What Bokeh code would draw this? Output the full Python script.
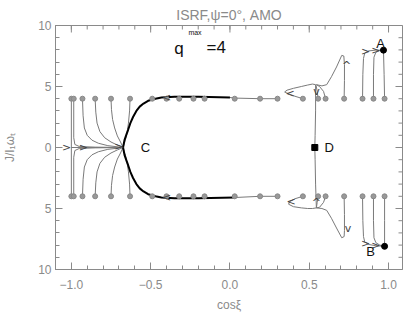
from bokeh.plotting import figure
from bokeh.models import Range1d, FixedTicker, Label
from bokeh.embed import file_html
from bokeh.resources import INLINE
from bokeh.core.properties import value

# ---------------- tick data ----------------
x_major = [-1.0, -0.5, 0.0, 0.5, 1.0]
x_tick_labels = ["\u22121.0", "\u22120.5", "0.0", "0.5", "1.0"]
x_minor = [-1.1, -1.0, -0.9, -0.8, -0.7, -0.6, -0.5, -0.4, -0.3, -0.2, -0.1,
           0.0, 0.1, 0.2, 0.3, 0.4, 0.5, 0.6, 0.7, 0.8, 0.9, 1.0]
y_major = [-10, -5, 0, 5, 10]
y_tick_labels = ["10", "5", "0", "5", "10"]
y_minor = [-10, -9, -8, -7, -6, -5, -4, -3, -2, -1, 0, 1, 2, 3, 4, 5, 6, 7, 8, 9, 10]

# ---------------- starting points ----------------
start_top_x = [-1.0, -0.985, -0.93, -0.85, -0.75, -0.63, -0.49, -0.40, -0.32, -0.23,
               -0.16, 0.03, 0.19, 0.30, 0.46, 0.556, 0.603, 0.72, 0.836, 0.905, 0.975]
start_top_y = [4.0] * 21
start_bot_x = [-1.0, -0.985, -0.93, -0.85, -0.75, -0.63, -0.49, -0.40, -0.32, -0.23,
               -0.16, 0.03, 0.19, 0.30, 0.46, 0.556, 0.603, 0.72, 0.836, 0.905, 0.975]
start_bot_y = [-4.0] * 21

# ---------------- trajectories, upper half ----------------
l1t_x = [-1.0, -1.0, -0.674]
l1t_y = [4.0, 0.0, 0.0]
l2t_x = [-0.985, -0.985, -0.978, -0.95, -0.85, -0.674]
l2t_y = [4.0, 0.8, 0.25, 0.08, 0.03, 0.0]
l3t_x = [-0.93, -0.926, -0.918, -0.9, -0.87, -0.83, -0.77, -0.674]
l3t_y = [4.0, 2.6, 1.6, 1.0, 0.6, 0.35, 0.15, 0.0]
l4t_x = [-0.85, -0.846, -0.838, -0.82, -0.79, -0.75, -0.71, -0.674]
l4t_y = [4.0, 2.9, 2.0, 1.3, 0.8, 0.45, 0.2, 0.0]
l5t_x = [-0.75, -0.747, -0.74, -0.727, -0.71, -0.69, -0.674]
l5t_y = [4.0, 3.1, 2.3, 1.6, 0.95, 0.45, 0.0]
l6t_x = [-0.63, -0.633, -0.64, -0.65, -0.662, -0.674]
l6t_y = [4.0, 3.0, 2.0, 1.1, 0.5, 0.0]
rowt_x = [0.30, 0.19, 0.03, 0.0]
rowt_y = [4.0, 4.0, 4.05, 4.1]
loopt_x = [0.46, 0.41, 0.37, 0.345, 0.36, 0.40, 0.45, 0.49, 0.52, 0.54, 0.54, 0.537, 0.535]
loopt_y = [4.0, 4.2, 4.4, 4.55, 4.7, 4.85, 5.0, 5.12, 5.2, 5.15, 3.0, 1.0, 0.0]
fat_x = [0.556, 0.55, 0.543]
fat_y = [4.0, 4.6, 5.1]
fbt_x = [0.603, 0.59, 0.565, 0.545]
fbt_y = [4.0, 4.6, 5.0, 5.15]
peakt_x = [0.72, 0.722, 0.722, 0.718, 0.705, 0.672, 0.64, 0.61, 0.58, 0.545]
peakt_y = [4.0, 5.5, 6.8, 7.5, 7.55, 6.6, 5.8, 5.15, 5.05, 5.15]
a1_x = [0.836, 0.838, 0.842, 0.85, 0.875, 0.92, 0.968]
a1_y = [4.0, 6.0, 7.3, 7.75, 7.92, 7.98, 7.98]
a2_x = [0.905, 0.905, 0.908, 0.92, 0.945, 0.968]
a2_y = [4.0, 6.0, 7.4, 7.8, 7.95, 7.98]
a3_x = [0.975, 0.972, 0.968]
a3_y = [4.0, 6.0, 7.98]

# separatrix (thick black) upper / lower
sept_x = [-0.674, -0.665, -0.652, -0.642, -0.628, -0.611, -0.59, -0.569, -0.545,
          -0.516, -0.47, -0.432, -0.35, -0.2, 0.0]
sept_y = [0.0, 0.6, 1.1, 1.45, 2.0, 2.5, 3.0, 3.35, 3.6, 3.83, 4.0, 4.1, 4.15, 4.15, 4.1]
sepb_x = [-0.674, -0.665, -0.652, -0.642, -0.628, -0.611, -0.59, -0.569, -0.545,
          -0.516, -0.47, -0.432, -0.35, -0.2, 0.03]
sepb_y = [0.0, -0.6, -1.1, -1.45, -2.0, -2.5, -3.0, -3.35, -3.6, -3.83, -4.0, -4.1,
          -4.15, -4.15, -4.1]

# ---------------- trajectories, lower half ----------------
l1b_x = [-1.0, -1.0, -0.674]
l1b_y = [-4.0, 0.0, 0.0]
l2b_x = [-0.985, -0.985, -0.978, -0.95, -0.85, -0.674]
l2b_y = [-4.0, -0.8, -0.25, -0.08, -0.03, 0.0]
l3b_x = [-0.93, -0.926, -0.918, -0.9, -0.87, -0.83, -0.77, -0.674]
l3b_y = [-4.0, -2.6, -1.6, -1.0, -0.6, -0.35, -0.15, 0.0]
l4b_x = [-0.85, -0.846, -0.838, -0.82, -0.79, -0.75, -0.71, -0.674]
l4b_y = [-4.0, -2.9, -2.0, -1.3, -0.8, -0.45, -0.2, 0.0]
l5b_x = [-0.75, -0.747, -0.74, -0.727, -0.71, -0.69, -0.674]
l5b_y = [-4.0, -3.1, -2.3, -1.6, -0.95, -0.45, 0.0]
l6b_x = [-0.63, -0.633, -0.64, -0.65, -0.662, -0.674]
l6b_y = [-4.0, -3.0, -2.0, -1.1, -0.5, 0.0]
rowb_x = [0.30, 0.19, 0.03]
rowb_y = [-4.0, -4.0, -4.1]
loopb_x = [0.46, 0.41, 0.375, 0.37, 0.40, 0.45, 0.49, 0.52, 0.545, 0.54, 0.537, 0.535]
loopb_y = [-4.0, -4.2, -4.45, -4.65, -4.85, -4.95, -5.0, -5.0, -4.95, -3.0, -1.0, 0.0]
fab_x = [0.556, 0.55, 0.545]
fab_y = [-4.0, -4.5, -4.95]
fbb_x = [0.603, 0.59, 0.565, 0.545]
fbb_y = [-4.0, -4.5, -4.9, -4.95]
troughb_x = [0.72, 0.722, 0.722, 0.72, 0.705, 0.672, 0.64, 0.61, 0.58, 0.545]
troughb_y = [-4.0, -5.5, -6.8, -7.3, -7.4, -6.6, -5.8, -5.15, -5.0, -4.95]
b1_x = [0.836, 0.838, 0.842, 0.85, 0.875, 0.92, 0.975]
b1_y = [-4.0, -6.0, -7.3, -7.75, -7.95, -8.05, -8.1]
b2_x = [0.905, 0.905, 0.908, 0.92, 0.945, 0.975]
b2_y = [-4.0, -6.0, -7.4, -7.8, -8.0, -8.1]
b3_x = [0.975, 0.975, 0.975]
b3_y = [-4.0, -6.0, -8.1]

# ---------------- flow arrows ----------------
arrow_x = [-1.03, -0.925, -0.70, -0.40, -0.40, 0.38, 0.385, 0.545, 0.545,
           0.735, 0.745, 0.855, 0.92, 0.855, 0.92]
arrow_y = [0.0, 0.0, 0.05, 4.12, -4.12, 4.45, -4.45, 4.6, -4.5,
           6.7, -6.6, 7.85, 7.95, -7.85, -8.0]
arrow_ch = [">", ">", ">", "<", "<", "<", "<", "v", "^",
            "^", "v", ">", ">", ">", ">"]

# end points
end_x = [0.968, 0.975]
end_y = [7.98, -8.1]
d_x = [0.535]
d_y = [0.0]

GRAY = "#8a8a8a"
LINE = "#7a7a7a"
FONT = "Liberation Sans"
X0, X1, Y0, Y1 = -1.1, 1.088, -10, 10

p = figure(frame_width=347, frame_height=244, x_range=Range1d(X0, X1), y_range=Range1d(Y0, Y1),
           output_backend="svg", toolbar_location=None,
           title="ISRF,\u03c8=0\u00b0, AMO",
           min_border_left=51, min_border_right=1, min_border_top=25, min_border_bottom=40)
p.title.align = "center"
p.title.text_font = FONT
p.title.text_font_size = "14px"
p.title.text_font_style = "normal"
p.title.text_color = GRAY
p.title.standoff = 5
p.title.offset = 0
p.grid.visible = False
p.outline_line_color = GRAY
p.background_fill_color = "white"
p.border_fill_color = "white"

def style_axis(ax):
    ax.axis_line_color = GRAY
    ax.major_tick_line_color = GRAY
    ax.minor_tick_line_color = GRAY
    ax.major_tick_in = 7
    ax.major_tick_out = 0
    ax.minor_tick_in = 4
    ax.minor_tick_out = 0
    ax.major_label_text_color = GRAY
    ax.major_label_text_font = FONT
    ax.major_label_text_font_size = "12px"
    ax.axis_label_text_color = GRAY
    ax.axis_label_text_font = FONT
    ax.axis_label_text_font_size = "12px"
    ax.axis_label_text_font_style = "normal"

xa = p.xaxis[0]
xa.ticker = FixedTicker(ticks=x_major, minor_ticks=x_minor)
xa.major_label_overrides = dict(zip(x_major, x_tick_labels))
xa.axis_label = "cos\u03be"
style_axis(xa)
xa.major_label_standoff = 10
xa.axis_label_standoff = 6

ya = p.yaxis[0]
ya.ticker = FixedTicker(ticks=y_major, minor_ticks=y_minor)
ya.major_label_overrides = dict(zip(y_major, y_tick_labels))
ya.axis_label = "J/I\u2081\u03c9\u209c"
style_axis(ya)
ya.major_label_standoff = 4
ya.axis_label_standoff = 18

# inward ticks on the top and right edges, from the same tick lists
xmaj_len, xmin_len = 7 / 12.2, 4 / 12.2
ymaj_len, ymin_len = 7 / 158.6, 4 / 158.6
p.segment(x0=x_major, y0=[Y1] * len(x_major), x1=x_major, y1=[Y1 - xmaj_len] * len(x_major),
          line_color=GRAY, line_width=1)
p.segment(x0=x_minor, y0=[Y1] * len(x_minor), x1=x_minor, y1=[Y1 - xmin_len] * len(x_minor),
          line_color=GRAY, line_width=1)
p.segment(x0=[X1] * len(y_major), y0=y_major, x1=[X1 - ymaj_len] * len(y_major), y1=y_major,
          line_color=GRAY, line_width=1)
p.segment(x0=[X1] * len(y_minor), y0=y_minor, x1=[X1 - ymin_len] * len(y_minor), y1=y_minor,
          line_color=GRAY, line_width=1)

tracks = [
    (l1t_x, l1t_y), (l2t_x, l2t_y), (l3t_x, l3t_y), (l4t_x, l4t_y), (l5t_x, l5t_y),
    (l6t_x, l6t_y), (rowt_x, rowt_y), (loopt_x, loopt_y), (fat_x, fat_y), (fbt_x, fbt_y),
    (peakt_x, peakt_y), (a1_x, a1_y), (a2_x, a2_y), (a3_x, a3_y),
    (l1b_x, l1b_y), (l2b_x, l2b_y), (l3b_x, l3b_y), (l4b_x, l4b_y), (l5b_x, l5b_y),
    (l6b_x, l6b_y), (rowb_x, rowb_y), (loopb_x, loopb_y), (fab_x, fab_y), (fbb_x, fbb_y),
    (troughb_x, troughb_y), (b1_x, b1_y), (b2_x, b2_y), (b3_x, b3_y),
]
p.multi_line([t[0] for t in tracks], [t[1] for t in tracks], line_color=LINE, line_width=1)
p.multi_line([sept_x, sepb_x], [sept_y, sepb_y], line_color="black", line_width=2)

p.scatter(start_top_x, start_top_y, size=5, marker="circle", fill_color="#999999",
          line_color="#888888")
p.scatter(start_bot_x, start_bot_y, size=5, marker="circle", fill_color="#999999",
          line_color="#888888")

p.text(arrow_x, arrow_y, text=arrow_ch, text_font=value("DejaVu Sans"), text_font_size="11px",
       text_color="#444444", text_align="center", text_baseline="middle")

p.scatter(end_x, end_y, size=6, marker="circle", fill_color="black", line_color="black")
p.scatter(d_x, d_y, size=6, marker="square", fill_color="black", line_color="black")

def lab(x, y, t, size, color="#111111", align="center"):
    p.add_layout(Label(x=x, y=y, text=t, text_font=FONT, text_font_size=size,
                       text_color=color, text_align=align, text_baseline="middle"))

lab(0.95, 8.55, "A", "13px")
lab(0.886, -8.55, "B", "13px")
lab(-0.533, 0.0, "C", "13px")
lab(0.625, 0.0, "D", "13px")
lab(-0.352, 8.1, "q", "17px", align="left")
lab(-0.262, 9.42, "max", "7px", align="left")
lab(-0.148, 8.2, "=4", "17px", align="left")

open("out.html", "w").write(file_html(p, INLINE))
